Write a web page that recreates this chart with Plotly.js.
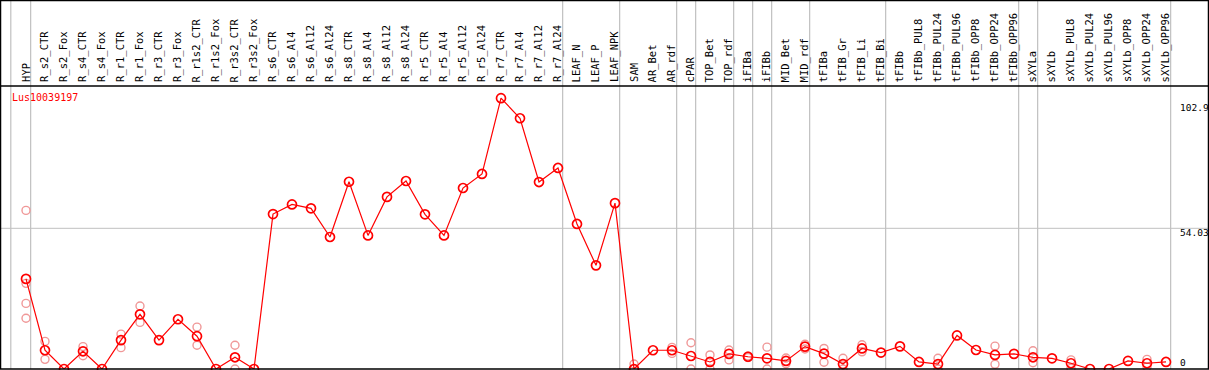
<!DOCTYPE html>
<html>
<head>
<meta charset="utf-8">
<script src="https://cdn.plot.ly/plotly-3.0.1.min.js"></script>
<style>html,body{margin:0;padding:0;background:#fff;}#chart{width:1209px;height:370px;}</style>
</head>
<body>
<div id="chart"></div>
<script>
const chartTitle = "Lus10039197";
const categories = ["HYP","R_s2_CTR","R_s2_Fox","R_s4_CTR","R_s4_Fox","R_r1_CTR","R_r1_Fox","R_r3_CTR","R_r3_Fox","R_r1s2_CTR","R_r1s2_Fox","R_r3s2_CTR","R_r3s2_Fox","R_s6_CTR","R_s6_Al4","R_s6_Al12","R_s6_Al24","R_s8_CTR","R_s8_Al4","R_s8_Al12","R_s8_Al24","R_r5_CTR","R_r5_Al4","R_r5_Al12","R_r5_Al24","R_r7_CTR","R_r7_Al4","R_r7_Al12","R_r7_Al24","LEAF_N","LEAF_P","LEAF_NPK","SAM","AR_Bet","AR_rdf","cPAR","TOP_Bet","TOP_rdf","iFIBa","iFIBb","MID_Bet","MID_rdf","tFIBa","tFIB_Gr","tFIB_Li","tFIB_Bi","tFIBb","tFIBb_PUL8","tFIBb_PUL24","tFIBb_PUL96","tFIBb_OPP8","tFIBb_OPP24","tFIBb_OPP96","sXYLa","sXYLb","sXYLb_PUL8","sXYLb_PUL24","sXYLb_PUL96","sXYLb_OPP8","sXYLb_OPP24","sXYLb_OPP96"];
const meanValues = [34.6,7.2,0,6.8,0,11.1,21.0,11.1,19.1,12.6,0,4.5,0,59.5,63.2,61.7,50.7,71.9,51.3,66.1,72.2,59.4,51.3,69.5,74.9,104.0,96.3,71.8,77.2,55.7,39.8,63.7,0,7.2,7.2,5.0,2.7,5.8,4.7,4.1,3.1,8.6,5.9,1.9,7.9,6.3,8.7,2.7,1.9,12.9,7.3,5.4,5.8,4.5,4.1,2.2,0,0,3.1,2.2,2.7];
const repCategories = ["HYP","HYP","HYP","HYP","R_s2_CTR","R_s2_CTR","R_s4_CTR","R_s4_CTR","R_r1_CTR","R_r1_CTR","R_r1_Fox","R_r1_Fox","R_r1s2_CTR","R_r1s2_CTR","R_r3s2_CTR","R_r3s2_CTR","SAM","SAM","AR_rdf","AR_rdf","cPAR","cPAR","TOP_Bet","TOP_Bet","TOP_rdf","TOP_rdf","iFIBa","iFIBa","iFIBb","iFIBb","MID_Bet","MID_Bet","MID_rdf","MID_rdf","tFIBa","tFIBa","tFIB_Gr","tFIB_Gr","tFIB_Li","tFIB_Li","tFIBb_PUL24","tFIBb_PUL24","tFIBb_OPP24","tFIBb_OPP24","sXYLa","sXYLa","sXYLb_PUL8","sXYLb_PUL8","sXYLb_OPP24","sXYLb_OPP24"];
const repValues = [60.9,32.9,25.2,19.5,10.6,3.7,8.6,5.1,13.4,8.2,24.2,17.9,16.1,9.1,9.1,0,1.9,0,8.3,6.0,10.1,0,5.4,0,7.3,3.5,5.0,4.4,8.4,0,2.0,4.2,9.5,7.7,7.9,2.6,4.1,0,9.3,6.6,4.1,0,8.8,1.8,7.0,2.4,3.5,0.3,3.7,0.8];
const yTickVals = [0, 54.03, 102.9];
const yTickText = ["0", "54.03", "102.9"];
const separatorAfter = ["HYP","R_r7_Al24","LEAF_NPK","AR_rdf","cPAR","TOP_rdf","iFIBa","iFIBb","MID_rdf","tFIB_Bi","tFIBb_OPP96","sXYLa","sXYLb_OPP96"];

const idx = c => categories.indexOf(c);
const xs = categories.map((c,i)=>i);

const W = 1209, H = 370;
const mL = 1, mR = 1, mT = 86, mB = 1;
const plotW = W - mL - mR, plotH = H - mT - mB;
const xMin = -1.316, xMax = xMin + plotW / 19.0;
const yMax = 108.68;
const topPaper = 1 + (mT - 0.5) / plotH;
const mono = "DejaVu Sans Mono, monospace";

const traces = [
  {
    x: repCategories.map(idx), y: repValues, type: "scatter", mode: "markers",
    marker: {symbol: "circle-open", size: 8, color: "#F09898", line: {width: 1.4, color: "#F09898"}},
    cliponaxis: false, hoverinfo: "skip", showlegend: false
  },
  {
    x: xs, y: meanValues, type: "scatter", mode: "lines+markers",
    line: {color: "#FF0000", width: 1.2},
    marker: {symbol: "circle-open", size: 9, color: "#FF0000", line: {width: 1.7, color: "#FF0000"}},
    cliponaxis: false, showlegend: false
  }
];

const shapes = [];
// horizontal grid at middle tick
shapes.push({type: "line", xref: "paper", yref: "y", x0: 0, x1: 1, y0: yTickVals[1], y1: yTickVals[1], line: {color: "#C0C0C0", width: 1}, layer: "below"});
// vertical separators
shapes.push({type: "line", xref: "x", yref: "paper", x0: -0.8, x1: -0.8, y0: 0, y1: topPaper, line: {color: "#C0C0C0", width: 1.2}, layer: "below"});
separatorAfter.forEach(c => {
  const xv = idx(c) + 0.245;
  shapes.push({type: "line", xref: "x", yref: "paper", x0: xv, x1: xv, y0: 0, y1: topPaper, line: {color: "#C0C0C0", width: 1.2}, layer: "below"});
});
// outer border and header separator
shapes.push({type: "rect", xref: "paper", yref: "paper", x0: -0.5/plotW, x1: 1 + 0.5/plotW, y0: 0, y1: topPaper, line: {color: "#000", width: 1.5}, fillcolor: "rgba(0,0,0,0)"});
shapes.push({type: "line", xref: "paper", yref: "paper", x0: 0, x1: 1, y0: 1, y1: 1, line: {color: "#000", width: 1.5}});

const annotations = [];
categories.forEach((c,i) => {
  annotations.push({x: i - 0.03, y: 1, xref: "x", yref: "paper", text: c, showarrow: false, textangle: -90,
    xanchor: "center", yanchor: "bottom", yshift: 2, font: {family: mono, size: 10.5, color: "#000"}});
});
annotations.push({x: 9/plotW, y: 1, xref: "paper", yref: "paper", text: chartTitle, showarrow: false,
  xanchor: "left", yanchor: "middle", yshift: -11, font: {family: mono, size: 10, color: "#FF0000"}});
const tickShift = [7, -3.7, -6];
yTickVals.forEach((v,k) => {
  annotations.push({x: (1178 - mL)/plotW, y: v, xref: "paper", yref: "y", text: yTickText[k], showarrow: false,
    xanchor: "left", yanchor: "middle", yshift: tickShift[k], font: {family: mono, size: 9.5, color: "#000"}});
});

const layout = {
  width: W, height: H,
  margin: {l: mL, r: mR, t: mT, b: mB, pad: 0},
  paper_bgcolor: "#fff", plot_bgcolor: "#fff",
  xaxis: {range: [xMin, xMax], showgrid: false, zeroline: false, showticklabels: false, ticks: "", fixedrange: true},
  yaxis: {range: [0, yMax], showgrid: false, zeroline: false, showticklabels: false, ticks: "", fixedrange: true},
  shapes: shapes, annotations: annotations, showlegend: false
};
Plotly.newPlot("chart", traces, layout, {displayModeBar: false, staticPlot: true});
</script>
</body>
</html>
